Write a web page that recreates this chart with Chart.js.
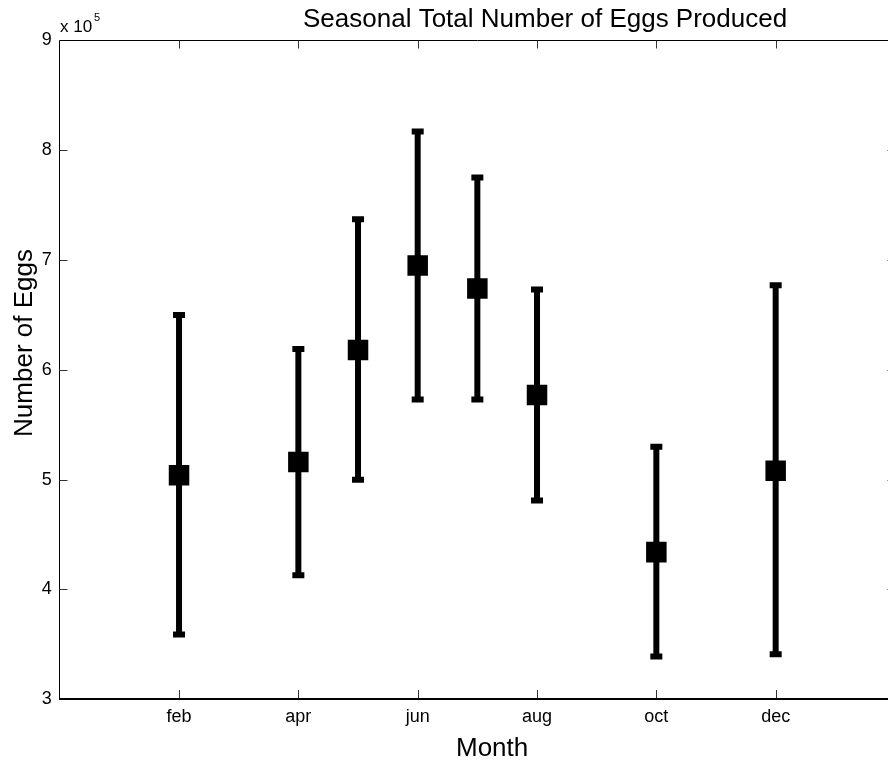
<!DOCTYPE html>
<html>
<head>
<meta charset="utf-8">
<title>Seasonal Total Number of Eggs Produced</title>
<script src="https://cdn.jsdelivr.net/npm/chart.js@4.4.1/dist/chart.umd.min.js"></script>
<style>
  html, body { margin: 0; padding: 0; background: #fff; overflow: hidden; width: 888px; height: 761px; }
  #wrap { width: 888px; height: 761px; overflow: hidden; position: relative; }
  #eggs-chart { position: absolute; left: 0; top: 0; }
</style>
</head>
<body>
<div id="wrap"><canvas id="eggs-chart" width="900" height="761"></canvas></div>
<script>
const monthNames = ["jan", "feb", "mar", "apr", "may", "jun", "jul", "aug", "sep", "oct", "nov", "dec"];
const sampleMonths = [2, 4, 5, 6, 7, 8, 10, 12];
const eggMean = [504000, 516000, 618000, 695000, 674000, 577000, 434000, 508000];
const eggUpper = [650000, 619000, 737000, 817000, 775000, 673000, 530000, 677000];
const eggLower = [359000, 413000, 500000, 573000, 573000, 481000, 339000, 341000];
const xTickMonths = [2, 4, 6, 8, 10, 12];
const yTickValues = [300000, 400000, 500000, 600000, 700000, 800000, 900000];

const FONT = "'Liberation Sans', Arial, Helvetica, sans-serif";
Chart.defaults.color = "#000";

// vertical error bars with caps, drawn under the square markers
const errorBars = {
  id: "errorBars",
  beforeDatasetsDraw(chart) {
    const { ctx, scales: { x, y } } = chart;
    ctx.save();
    ctx.strokeStyle = "#000";
    ctx.lineCap = "butt";
    sampleMonths.forEach((m, i) => {
      const px = x.getPixelForValue(m);
      const top = y.getPixelForValue(eggUpper[i]);
      const bot = y.getPixelForValue(eggLower[i]);
      ctx.lineWidth = 6;
      ctx.beginPath();
      ctx.moveTo(px, top);
      ctx.lineTo(px, bot);
      ctx.stroke();
      ctx.beginPath();
      ctx.moveTo(px - 6, top);
      ctx.lineTo(px + 6, top);
      ctx.moveTo(px - 6, bot);
      ctx.lineTo(px + 6, bot);
      ctx.stroke();
    });
    ctx.restore();
  },
};

// box frame with inward ticks, plus titles
const frameAndText = {
  id: "frameAndText",
  afterDraw(chart) {
    const { ctx, chartArea: a, scales: { x, y } } = chart;
    const left = Math.floor(a.left) + 0.5;
    const top = Math.floor(a.top) + 0.5;
    const right = Math.floor(a.right) + 0.5;
    const bottom = Math.round(a.bottom);
    ctx.save();
    ctx.strokeStyle = "#000";
    ctx.lineWidth = 1;
    ctx.beginPath();
    ctx.moveTo(left, bottom);
    ctx.lineTo(left, top);
    ctx.lineTo(right, top);
    ctx.lineTo(right, bottom);
    ctx.stroke();
    ctx.lineWidth = 2;
    ctx.beginPath();
    ctx.moveTo(left - 0.5, bottom);
    ctx.lineTo(right, bottom);
    ctx.stroke();

    ctx.lineWidth = 1;
    ctx.strokeStyle = "#333";
    ctx.beginPath();
    xTickMonths.forEach((m) => {
      const px = Math.round(x.getPixelForValue(m)) + 0.5;
      ctx.moveTo(px, bottom - 1);
      ctx.lineTo(px, bottom - 9);
      ctx.moveTo(px, top);
      ctx.lineTo(px, top + 8);
    });
    yTickValues.slice(1, -1).forEach((v) => {
      const py = Math.round(y.getPixelForValue(v)) + 0.5;
      ctx.moveTo(left, py);
      ctx.lineTo(left + 8, py);
      ctx.moveTo(right, py);
      ctx.lineTo(right - 8, py);
    });
    ctx.stroke();

    ctx.fillStyle = "#000";
    ctx.textBaseline = "alphabetic";
    ctx.textAlign = "left";
    ctx.font = "26px " + FONT;
    ctx.fillText("Seasonal Total Number of Eggs Produced", 303, 27);
    ctx.fillText("Month", 456, 756);

    ctx.save();
    ctx.translate(32, 343);
    ctx.rotate(-Math.PI / 2);
    ctx.textAlign = "center";
    ctx.fillText("Number of Eggs", 0, 0);
    ctx.restore();

    ctx.font = "17px " + FONT;
    ctx.fillText("x 10", 60, 32);
    ctx.font = "11px " + FONT;
    ctx.fillText("5", 94, 21);
    ctx.restore();
  },
};

new Chart(document.getElementById("eggs-chart"), {
  type: "scatter",
  data: {
    datasets: [
      {
        label: "Eggs",
        data: sampleMonths.map((m, i) => ({ x: m, y: eggMean[i] })),
        pointStyle: "rect",
        pointRadius: 14.5,
        pointHoverRadius: 14.5,
        backgroundColor: "#000",
        borderWidth: 0,
      },
    ],
  },
  options: {
    responsive: false,
    animation: false,
    events: [],
    // the right edge of the axes box sits just past the visible page
    layout: { autoPadding: false, padding: { left: 0, top: 40.3, right: 5, bottom: 0 } },
    plugins: { legend: { display: false }, tooltip: { enabled: false } },
    scales: {
      x: {
        type: "linear",
        min: 0,
        max: 14,
        afterBuildTicks: (scale) => {
          scale.ticks = xTickMonths.map((v) => ({ value: v }));
        },
        afterFit: (scale) => {
          scale.height = 61.7;
          scale.paddingLeft = 0;
          scale.paddingRight = 0;
        },
        grid: { display: false, drawTicks: false },
        border: { display: false },
        ticks: {
          padding: 7,
          color: "#000",
          font: { family: FONT, size: 18 },
          callback: (value) => monthNames[value - 1],
        },
      },
      y: {
        min: 300000,
        max: 900000,
        afterBuildTicks: (scale) => {
          scale.ticks = yTickValues.map((v) => ({ value: v }));
        },
        afterFit: (scale) => {
          scale.width = 59.7;
        },
        grid: { display: false, drawTicks: false },
        border: { display: false },
        ticks: {
          padding: 8,
          color: "#000",
          font: { family: FONT, size: 18 },
          callback: (value) => value / 100000,
        },
      },
    },
  },
  plugins: [errorBars, frameAndText],
});
</script>
</body>
</html>
